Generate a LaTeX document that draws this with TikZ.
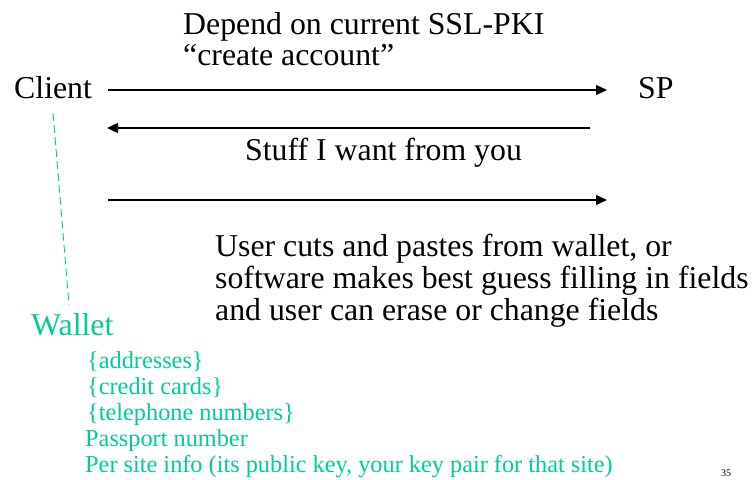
\documentclass[tikz,border=0pt]{standalone}
\usepackage{fontspec}
\setmainfont{Liberation Serif}
\usetikzlibrary{arrows.meta}
\definecolor{walletgreen}{RGB}{0,204,153}
\begin{document}
\begin{tikzpicture}[x=1pt,y=-1pt,
  big/.style={inner sep=0pt,anchor=base west,font=\fontsize{31.8}{36}\selectfont},
  small/.style={inner sep=0pt,anchor=base west,text=walletgreen,font=\fontsize{24.3}{28}\selectfont},
  msg/.style={line width=1.1pt,-{Triangle[length=11pt,width=10pt]}}]
\useasboundingbox (0,0) rectangle (754,479);

% header text
\node[big] (hdr1) at (183,34.5) {Depend on current SSL-PKI};
\node[big] (hdr2) at (183,65) {“create account”};

% parties
\node[big] (client) at (14,98) {Client};
\node[big] (sp) at (638,98) {SP};

% message arrows
\coordinate (a1s) at (108,90);  \coordinate (a1e) at (607,90);
\coordinate (a2s) at (590,128); \coordinate (a2e) at (107,128);
\coordinate (a3s) at (108,200); \coordinate (a3e) at (607,200);
\draw[msg] (a1s) -- (a1e);
\draw[msg] (a2s) -- (a2e);
\draw[msg] (a3s) -- (a3e);

\node[big] (stuff) at (245,160.5) {Stuff I want from you};

\node[big] (user1) at (215,256) {User cuts and pastes from wallet, or};
\node[big] (user2) at (215,288) {software makes best guess filling in fields};
\node[big] (user3) at (215,320) {and user can erase or change fields};

% wallet
\node[big,text=walletgreen] (wallet) at (31,335) {Wallet};
\coordinate (d1) at (53,113);
\coordinate (d2) at (69,305);
\draw[walletgreen,line width=0.9pt,dash pattern=on 8pt off 4pt] (d1) -- (d2);

\node[small] (w1) at (87,368) {\{addresses\}};
\node[small] (w2) at (87,394) {\{credit cards\}};
\node[small] (w3) at (87,420) {\{telephone numbers\}};
\node[small] (w4) at (85,446) {Passport number};
\node[small] (w5) at (85,472) {Per site info (its public key, your key pair for that site)};

% slide number
\node[inner sep=0pt,anchor=base west,font=\fontsize{10}{11}\selectfont] (pg) at (721,476.5) {35};
\end{tikzpicture}
\end{document}
